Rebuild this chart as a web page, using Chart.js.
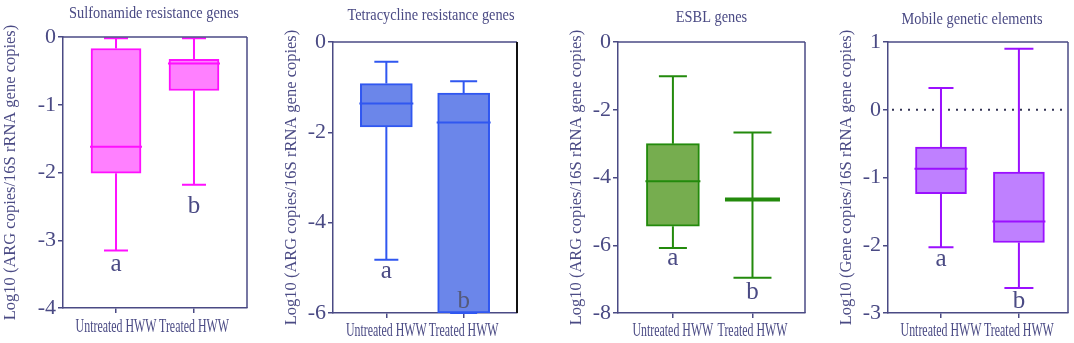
<!DOCTYPE html>
<html>
<head>
<meta charset="utf-8">
<script src="https://cdn.jsdelivr.net/npm/chart.js@4.4.1/dist/chart.umd.min.js"></script>
<style>
  body { margin: 0; background: #fff; width: 1074px; height: 343px; position: relative; overflow: hidden; }
  canvas { position: absolute; top: 0; }
</style>
</head>
<body>
<canvas id="c1" width="251" height="343" style="left:0px"></canvas>
<canvas id="c2" width="240" height="343" style="left:281px"></canvas>
<canvas id="c3" width="243" height="343" style="left:566px"></canvas>
<canvas id="c4" width="238" height="343" style="left:836px"></canvas>
<script>
// groups on the x axis
const groups = ['Untreated HWW', 'Treated HWW'];
const sigLetters = ['a', 'b'];

// Sulfonamide resistance genes
const sulfMin = [-3.15, -2.18];
const sulfQ1  = [-2.01, -0.79];
const sulfMed = [-1.62, -0.39];
const sulfQ3  = [-0.17, -0.33];
const sulfMax = [-0.02, -0.02];
const sulfSig = [-3.45, -2.6];

// Tetracycline resistance genes
const tetMin = [-4.82, -6.0];
const tetQ1  = [-1.88, -6.0];
const tetMed = [-1.36, -1.78];
const tetQ3  = [-0.92, -1.13];
const tetMax = [-0.44, -0.87];
const tetSig = [-5.22, -5.88];

// ESBL genes
const esblMin = [-6.08, -6.96];
const esblQ1  = [-5.44, -4.65];
const esblMed = [-4.11, -4.65];
const esblQ3  = [-3.0, -4.65];
const esblMax = [-1.01, -2.67];
const esblSig = [-6.57, -7.6];

// Mobile genetic elements
const mgeMin = [-2.03, -2.63];
const mgeQ1  = [-1.24, -1.96];
const mgeMed = [-0.87, -1.65];
const mgeQ3  = [-0.55, -0.92];
const mgeMax = [0.32, 0.9];
const mgeSig = [-2.3, -2.93];

const ink = '#4a4a84';
const serif = "'Liberation Serif', 'Times New Roman', serif";

// narrow text, like the condensed face of the original figure
function narrowText(ctx, text, x, y, size, squeeze) {
    ctx.save();
    ctx.translate(x, y);
    ctx.scale(squeeze, 1);
    ctx.font = size + 'px ' + serif;
    ctx.textAlign = 'center';
    ctx.textBaseline = 'alphabetic';
    ctx.fillText(text, 0, 0);
    ctx.restore();
}

// whiskers, caps, medians and letters drawn from the data through the scales
const boxPlugin = {
    id: 'boxParts',
    afterDatasetsDraw(chart) {
        const p = chart.options.plugins.boxParts;
        const xs = chart.scales.x, ys = chart.scales.y;
        const ctx = chart.ctx;
        const area = chart.chartArea;
        ctx.save();
        if (p.refLine !== undefined) {
            ctx.strokeStyle = '#333355';
            ctx.lineWidth = 2;
            ctx.setLineDash([2, 6]);
            const y0 = ys.getPixelForValue(p.refLine);
            ctx.beginPath();
            ctx.moveTo(area.left + 4, y0);
            ctx.lineTo(area.right, y0);
            ctx.stroke();
            ctx.setLineDash([]);
        }
        for (let i = 0; i < groups.length; i++) {
            const x = xs.getPixelForValue(i);
            const half = p.boxWidth / 2;
            const cap = p.capWidth[i] / 2;
            const yMin = ys.getPixelForValue(p.min[i]);
            const yMax = ys.getPixelForValue(p.max[i]);
            const yQ1 = ys.getPixelForValue(p.q1[i]);
            const yQ3 = ys.getPixelForValue(p.q3[i]);
            const yMed = ys.getPixelForValue(p.med[i]);
            ctx.strokeStyle = p.stroke;
            ctx.lineWidth = 2;
            ctx.beginPath();
            ctx.moveTo(x, yQ3); ctx.lineTo(x, yMax);
            ctx.moveTo(x - cap, yMax); ctx.lineTo(x + cap, yMax);
            ctx.moveTo(x, yQ1); ctx.lineTo(x, yMin);
            ctx.moveTo(x - cap, yMin); ctx.lineTo(x + cap, yMin);
            ctx.stroke();
            ctx.lineWidth = (p.q1[i] === p.q3[i]) ? 4 : 2;
            ctx.beginPath();
            ctx.moveTo(x - half - 1, yMed); ctx.lineTo(x + half + 1, yMed);
            ctx.stroke();
            ctx.fillStyle = p.letterColor[i];
            ctx.font = '25px ' + serif;
            ctx.textAlign = 'center';
            ctx.textBaseline = 'alphabetic';
            ctx.fillText(sigLetters[i], x, ys.getPixelForValue(p.sig[i]));
        }
        ctx.restore();
    }
};

// frame on top and right, panel title and group names
const framePlugin = {
    id: 'frame',
    afterDraw(chart) {
        const f = chart.options.plugins.frame;
        const a = chart.chartArea;
        const xs = chart.scales.x;
        const ctx = chart.ctx;
        ctx.save();
        ctx.strokeStyle = ink;
        ctx.lineWidth = 1.5;
        ctx.beginPath();
        ctx.moveTo(a.left, a.top); ctx.lineTo(a.right, a.top);
        ctx.stroke();
        ctx.strokeStyle = f.rightColor;
        ctx.lineWidth = f.rightWidth;
        ctx.beginPath();
        ctx.moveTo(a.right, a.top); ctx.lineTo(a.right, a.bottom);
        ctx.stroke();
        ctx.fillStyle = ink;
        narrowText(ctx, f.title, (a.left + a.right) / 2 + f.titleDx, f.titleBase, 17.5, 0.82);
        groups.forEach((g, i) => {
            narrowText(ctx, g, xs.getPixelForValue(i), a.bottom + f.labelDrop, 18, 0.66);
        });
        ctx.restore();
    }
};

function makePanel(id, cfg) {
    const boxes = groups.map((g, i) => ({ x: i, y: [cfg.q1[i], cfg.q3[i]] }));
    new Chart(document.getElementById(id), {
        type: 'bar',
        data: {
            datasets: [{
                data: boxes,
                backgroundColor: cfg.fill,
                borderColor: cfg.stroke,
                borderWidth: 2,
                borderSkipped: false,
                barThickness: cfg.boxWidth
            }]
        },
        options: {
            responsive: false,
            animation: false,
            layout: { padding: { left: 0, right: cfg.padRight, top: cfg.top, bottom: 0 } },
            plugins: {
                legend: { display: false },
                tooltip: { enabled: false },
                title: { display: false },
                boxParts: {
                    min: cfg.min, q1: cfg.q1, med: cfg.med, q3: cfg.q3, max: cfg.max,
                    sig: cfg.sig, stroke: cfg.stroke, boxWidth: cfg.boxWidth,
                    capWidth: cfg.capWidth, letterColor: cfg.letterColor, refLine: cfg.refLine
                },
                frame: {
                    rightColor: cfg.rightColor || ink, rightWidth: cfg.rightWidth || 1.5,
                    title: cfg.title, titleBase: cfg.titleBase, titleDx: cfg.titleDx || 0,
                    labelDrop: cfg.labelDrop
                }
            },
            scales: {
                x: {
                    type: 'linear',
                    offset: false,
                    min: cfg.xMin,
                    max: cfg.xMax,
                    afterBuildTicks: s => { s.ticks = groups.map((g, i) => ({ value: i })); },
                    afterFit: s => { s.height = cfg.bottomH; },
                    ticks: { display: false },
                    grid: { drawOnChartArea: false, offset: false, tickLength: 5, color: ink, lineWidth: 1.5 },
                    border: { color: ink, width: 1.5 }
                },
                y: {
                    min: cfg.yMin,
                    max: cfg.yMax,
                    afterFit: s => { s.width = cfg.yW; },
                    ticks: {
                        stepSize: cfg.step,
                        color: ink,
                        padding: 2,
                        font: { family: serif, size: 22 }
                    },
                    grid: { drawOnChartArea: false, tickLength: 5, color: ink, lineWidth: 1.5 },
                    border: { color: ink, width: 1.5 },
                    title: {
                        display: true,
                        text: cfg.yTitle,
                        color: ink,
                        padding: { top: 1, bottom: 0 },
                        font: { family: serif, size: 16.5 }
                    }
                }
            }
        },
        plugins: [boxPlugin, framePlugin]
    });
}

makePanel('c1', {
    title: 'Sulfonamide resistance genes', titleBase: 18, titleDx: -1,
    yTitle: 'Log10 (ARG copies/16S rRNA gene copies)',
    min: sulfMin, q1: sulfQ1, med: sulfMed, q3: sulfQ3, max: sulfMax, sig: sulfSig,
    fill: '#ff80ff', stroke: '#ff10ff', letterColor: [ink, ink],
    yMin: -4, yMax: 0, step: 1, xMin: -0.68, xMax: 1.68,
    yW: 63, padRight: 4, top: 37, bottomH: 35, labelDrop: 24,
    boxWidth: 50, capWidth: [24, 24]
});

makePanel('c2', {
    title: 'Tetracycline resistance genes', titleBase: 20, titleDx: 6,
    yTitle: 'Log10 (ARG copies/16S rRNA gene copies)',
    min: tetMin, q1: tetQ1, med: tetMed, q3: tetQ3, max: tetMax, sig: tetSig,
    fill: '#6b86ea', stroke: '#3057f0', letterColor: [ink, '#555a7a'],
    yMin: -6, yMax: 0, step: 2, xMin: -0.69, xMax: 1.69,
    yW: 52, padRight: 4, top: 42, bottomH: 30, labelDrop: 23,
    boxWidth: 52, capWidth: [24, 27], rightColor: '#111111', rightWidth: 2
});

makePanel('c3', {
    title: 'ESBL genes', titleBase: 22, titleDx: 0,
    yTitle: 'Log10 (ARG copies/16S rRNA gene copies)',
    min: esblMin, q1: esblQ1, med: esblMed, q3: esblQ3, max: esblMax, sig: esblSig,
    fill: '#76ad4f', stroke: '#238a0c', letterColor: [ink, ink],
    yMin: -8, yMax: 0, step: 2, xMin: -0.69, xMax: 1.66,
    yW: 52, padRight: 4, top: 42, bottomH: 30, labelDrop: 23,
    boxWidth: 53, capWidth: [28, 38]
});

makePanel('c4', {
    title: 'Mobile genetic elements', titleBase: 24, titleDx: -6,
    yTitle: 'Log10 (Gene copies/16S rRNA gene copies)',
    min: mgeMin, q1: mgeQ1, med: mgeMed, q3: mgeQ3, max: mgeMax, sig: mgeSig,
    fill: '#bf80ff', stroke: '#9b10ff', letterColor: [ink, ink],
    yMin: -3, yMax: 1, step: 1, xMin: -0.68, xMax: 1.63,
    yW: 52, padRight: 6, top: 42, bottomH: 30, labelDrop: 23,
    boxWidth: 51, capWidth: [25, 29], refLine: 0
});
</script>
</body>
</html>
